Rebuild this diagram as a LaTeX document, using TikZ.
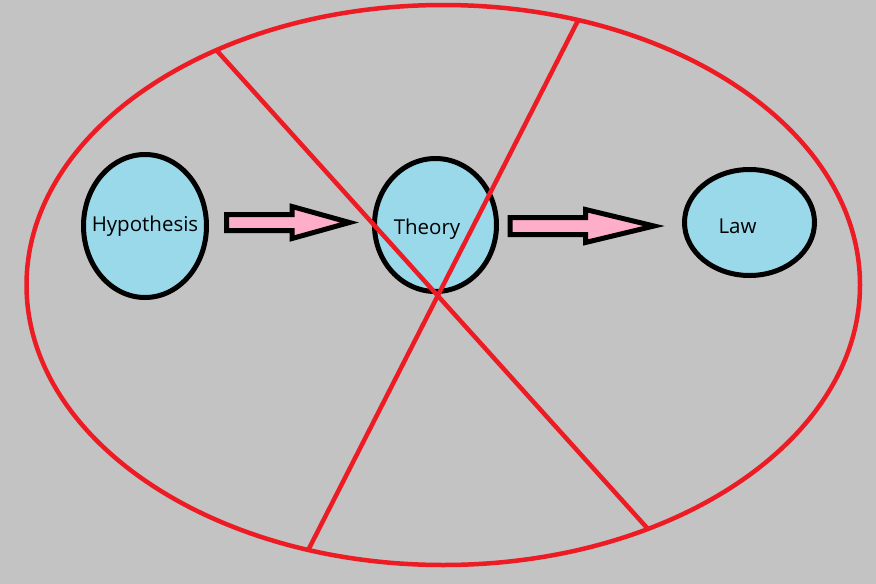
\documentclass[tikz,border=0pt]{standalone}
\usepackage{fontspec}
\setsansfont{Open Sans}
\usepackage{tikz}
\usetikzlibrary{shapes.geometric,calc}
\usepackage{xcolor}
\definecolor{bggray}{RGB}{195,195,195}
\definecolor{paintred}{RGB}{237,28,36}
\definecolor{paintblue}{RGB}{153,217,234}
\definecolor{paintpink}{RGB}{255,174,201}

\begin{document}
\begin{tikzpicture}[x=1pt,y=-1pt,
  every node/.style={font=\sffamily\fontsize{20.5}{24}\selectfont},
  bubble/.style={ellipse, draw=black, line width=5pt, fill=paintblue, inner sep=0pt, outer sep=0pt},
  frameline/.style={draw=paintred, line width=4.5pt},
  blockarrow/.style={draw=black, fill=paintpink, line width=5pt, line join=miter}]
\useasboundingbox[fill=bggray] (0,0) rectangle (876,584);
% outer ellipse
\node[ellipse, frameline, minimum width=833.5pt, minimum height=560pt, inner sep=0pt, outer sep=0pt] (frame) at (443.25,285) {};
% the three stages
\node[bubble, minimum width=123pt, minimum height=143pt, label=center:Hypothesis] (hyp) at (145,226) {};
\node[bubble, minimum width=122pt, minimum height=133pt, label={[xshift=-8.5pt,yshift=-4pt]center:Theory}] (theory) at (435.5,225) {};
\node[bubble, minimum width=130pt, minimum height=106pt, label={[xshift=-12pt,yshift=-3.5pt]center:Law}] (law) at (749.5,222.5) {};
% block arrows
\coordinate (a1s) at ($(hyp.east)+(20,-3.5)$);
\coordinate (a1e) at ($(theory.west)+(-25,-2.5)$);
\coordinate (a2s) at ($(theory.east)+(13.5,1)$);
\coordinate (a2e) at ($(law.west)+(-30.5,3.5)$);
\foreach \s/\e/\hl/\bw/\hw in {a1s/a1e/57.5/8/16, a2s/a2e/68.5/8.5/16.5}
  \draw[blockarrow] ($(\s)+(0,-\bw)$) -- ($(\e)+(-\hl,-\bw)$) -- ($(\e)+(-\hl,-\hw)$) -- (\e)
    -- ($(\e)+(-\hl,\hw)$) -- ($(\e)+(-\hl,\bw)$) -- ($(\s)+(0,\bw)$) -- cycle;
% crossing lines
\draw[frameline] (frame.63.04) -- (frame.243.56);
\draw[frameline] (frame.134.67) -- (frame.310.14);
\end{tikzpicture}
\end{document}
